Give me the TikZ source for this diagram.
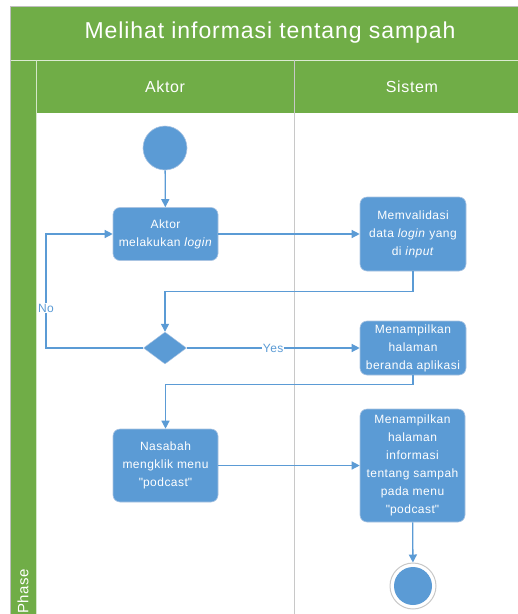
\documentclass[tikz,border=0pt]{standalone}
\usepackage{fontspec}
\setmainfont{Liberation Sans}[LetterSpace=4]
\usetikzlibrary{arrows.meta,positioning,shapes.geometric}
\definecolor{lanegreen}{RGB}{112,173,71}
\definecolor{actblue}{RGB}{91,155,213}
\definecolor{actedge}{RGB}{170,196,226}
\definecolor{lanegray}{RGB}{200,200,200}
\tikzset{
    actbox/.style={
        rectangle, rounded corners=7pt,
        fill=actblue, draw=actedge, line width=0.6pt,
        text=white, align=center, inner sep=0pt,
        font=\fontsize{12}{18}\selectfont
    },
    % start, decision and end shapes
    startdot/.style={circle, fill=actblue, draw=actedge, line width=0.6pt, minimum size=44pt, inner sep=0pt},
    decision/.style={diamond, fill=actblue, draw=actedge, line width=0.4pt, minimum width=43pt, minimum height=32pt, inner sep=0pt},
    endring/.style={circle, fill=white, draw=lanegray, line width=1pt, minimum size=46pt, inner sep=0pt},
    flowarrow/.style={
        line width=1.3pt, actblue, ->,
        >={Triangle[length=8pt, width=8pt]}
    },
    flowlabel/.style={fill=white, text=actblue, inner sep=1pt, font=\fontsize{12}{14}\selectfont},
    headtext/.style={text=white, font=\fontsize{16}{18}\selectfont}
}
\begin{document}
\begin{tikzpicture}[x=1pt,y=-1pt]
    \useasboundingbox (0,0) rectangle (518,614);
    \fill[white] (0,0) rectangle (518,614);

    % swimlane frame
    \fill[lanegreen] (10,6) rectangle (518,113);
    \fill[lanegreen] (10,60) rectangle (36,614);
    \draw[white!75!lanegreen, line width=0.8pt] (10,60) -- (518,60);
    \draw[white!70!lanegreen, line width=0.6pt] (36,60) -- (36,614);
    \draw[lanegray, line width=1pt] (294,60) -- (294,614);
    \draw[lightgray, line width=0.6pt] (518,6) -- (10,6) -- (10,614);

    \node[text=white, font=\fontsize{23}{26}\selectfont] (title) at (270,33) {Melihat informasi tentang sampah};
    \node[headtext] (aktorhead) at (165,87) {Aktor};
    \node[headtext] (sistemhead) at (412,87) {Sistem};
    \node[rotate=90, anchor=west, text=white, inner sep=2pt, font=\fontsize{15}{17}\selectfont] (phase) at (23,616) {Phase};

    % activities
    \node[startdot] (start) at (165,148) {};
    \node[actbox, minimum width=105pt, minimum height=53pt] (login) at (165.5,234) {Aktor\\melakukan \textit{login}};
    \node[actbox, minimum width=106pt, minimum height=74pt] (validasi) at (413,234) {Memvalidasi\\data \textit{login} yang\\di \textit{input}};
    \node[decision] (cek) at (165,348) {};
    \node[actbox, minimum width=106pt, minimum height=54pt] (beranda) at (413,348) {Menampilkan\\halaman\\beranda aplikasi};
    \node[actbox, minimum width=105pt, minimum height=73pt] (podcast) at (165.5,465.5) {Nasabah\\mengklik menu\\\textquotedbl podcast\textquotedbl};
    \node[actbox, minimum width=105pt, minimum height=113pt] (info) at (412.5,465.5) {Menampilkan\\halaman\\informasi\\tentang sampah\\pada menu\\\textquotedbl podcast\textquotedbl};
    \node[endring] (stop) at (413,586) {};
    \fill[actblue] (stop) circle (19pt);

    % flows
    \coordinate (nobend) at (46,308);
    \draw[flowarrow] (start) -- (login);
    \draw[flowarrow] (login) -- (validasi);
    \draw[flowarrow] (validasi.south) -- ++(0,20) -| (cek.north);
    \draw[flowarrow] (cek.west) -| (nobend) |- (login.west);
    \node[flowlabel] (nolabel) at (nobend) {No};
    \draw[flowarrow] (cek.east) -- node[flowlabel] (yeslabel) {Yes} (beranda.west);
    \draw[flowarrow] (beranda.south) -- ++(0,9) -| (podcast.north);
    \draw[flowarrow] (podcast) -- (info);
    \draw[flowarrow] (info) -- (stop);
\end{tikzpicture}
\end{document}
